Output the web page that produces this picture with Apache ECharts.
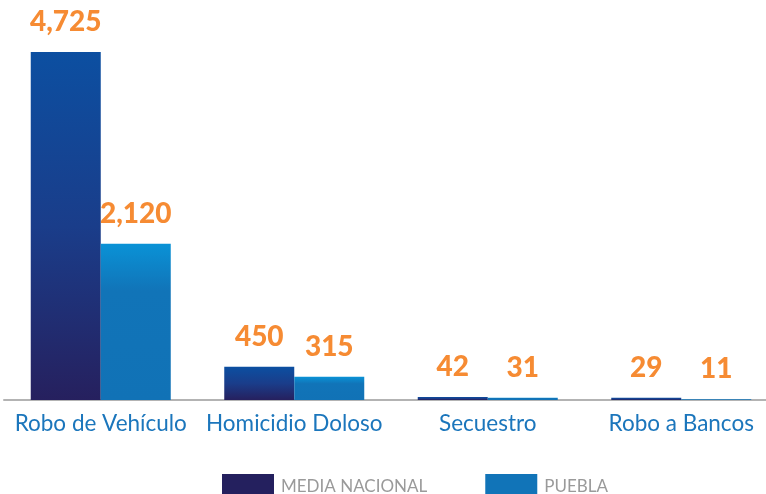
<!DOCTYPE html>
<html>
<head>
<meta charset="utf-8">
<script src="https://cdn.jsdelivr.net/npm/echarts@6/dist/echarts.min.js"></script>
<style>
  html, body { margin: 0; padding: 0; background: #fff; }
  #chart { width: 766px; height: 494px; }
</style>
</head>
<body>
<div id="chart"></div>
<script>
var categories = ['Robo de Vehículo', 'Homicidio Doloso', 'Secuestro', 'Robo a Bancos'];
var mediaNacional = [4725, 450, 42, 29];
var puebla = [2120, 315, 31, 11];
var seriesNames = ['MEDIA NACIONAL', 'PUEBLA'];

var chart = echarts.init(document.getElementById('chart'));

// etiqueta naranja encima de cada barra
var valueLabel = {
  show: true,
  position: 'top',
  distance: 16,
  color: '#f68b33',
  fontFamily: 'Lato',
  fontWeight: 900,
  fontSize: 28,
  formatter: function (p) {
    return p.value.toLocaleString('en-US');
  }
};

var option = {
  animation: false,
  grid: { left: 4, right: -12, top: 52, bottom: 94, outerBoundsMode: 'none' },
  legend: {
    top: 469,
    left: 217,
    itemWidth: 52,
    itemHeight: 25,
    itemGap: 58,
    icon: 'rect',
    textStyle: { color: '#9a9a9a', fontSize: 17, fontFamily: 'Lato', padding: [2, 0, 0, 2] },
    data: [
      { name: seriesNames[0], itemStyle: { color: '#24205e' } },
      { name: seriesNames[1], itemStyle: { color: '#1174b8' } }
    ]
  },
  xAxis: {
    type: 'category',
    data: categories,
    axisLine: { lineStyle: { color: '#b3b3b3', width: 2 } },
    axisTick: { show: false },
    axisLabel: { color: '#1b76bc', fontSize: 22.5, fontFamily: 'Lato', margin: 12, interval: 0 }
  },
  yAxis: {
    type: 'value',
    min: 0,
    max: 4725,
    show: false,
    splitLine: { show: false }
  },
  series: [
    {
      name: seriesNames[0],
      type: 'bar',
      data: mediaNacional,
      barWidth: 70,
      barGap: '0%',
      label: valueLabel,
      itemStyle: {
        color: new echarts.graphic.LinearGradient(0, 0, 0, 1, [
          { offset: 0, color: '#0c4fa1' },
          { offset: 0.5, color: '#1a3d8a' },
          { offset: 1, color: '#26205e' }
        ])
      }
    },
    {
      name: seriesNames[1],
      type: 'bar',
      data: puebla,
      barWidth: 70,
      label: valueLabel,
      itemStyle: {
        color: new echarts.graphic.LinearGradient(0, 0, 0, 1, [
          { offset: 0, color: '#0a92d6' },
          { offset: 0.3, color: '#1174b8' },
          { offset: 1, color: '#1172b6' }
        ])
      }
    }
  ]
};

chart.setOption(option);
</script>
</body>
</html>
